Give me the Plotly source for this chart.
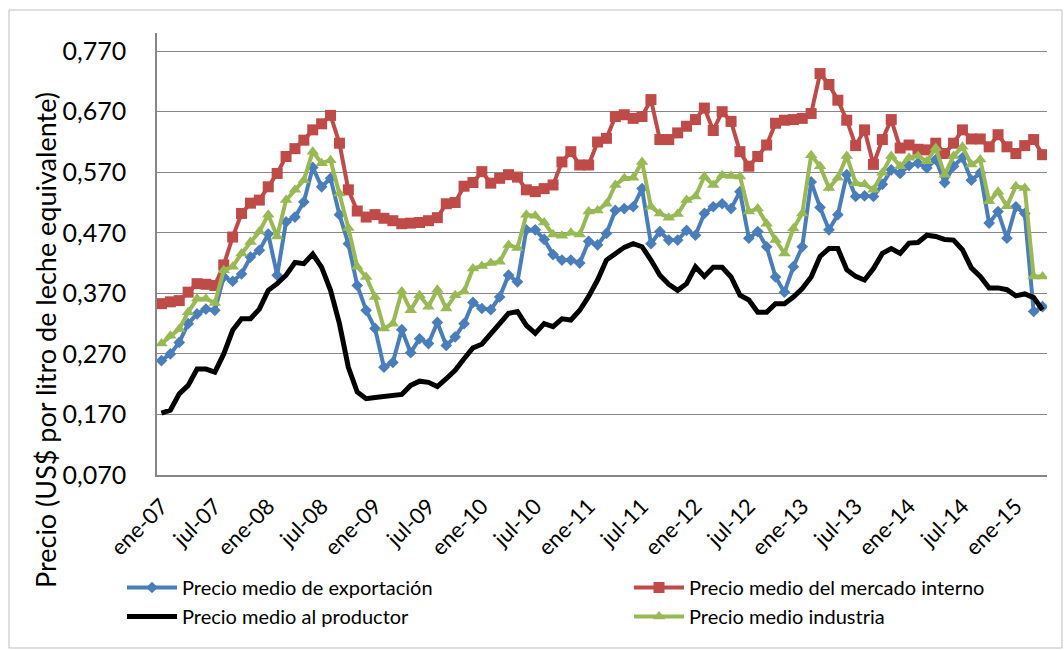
import plotly.graph_objects as go

meses = ["ene", "feb", "mar", "abr", "may", "jun", "jul", "ago", "sep", "oct", "nov", "dic"]
categorias = [f"{meses[i % 12]}-{7 + i // 12:02d}" for i in range(100)]
etiquetas = [c for i, c in enumerate(categorias) if i % 6 == 0]

exportacion = [
    0.259, 0.270, 0.289, 0.320, 0.336, 0.344, 0.342, 0.397, 0.390, 0.402,
    0.430, 0.441, 0.468, 0.400, 0.488, 0.496, 0.521, 0.578, 0.546, 0.560,
    0.500, 0.452, 0.383, 0.342, 0.312, 0.248, 0.256, 0.310, 0.272, 0.295,
    0.287, 0.322, 0.284, 0.298, 0.320, 0.355, 0.345, 0.343, 0.364, 0.400,
    0.389, 0.475, 0.475, 0.459, 0.434, 0.425, 0.425, 0.420, 0.456, 0.450,
    0.469, 0.507, 0.510, 0.513, 0.543, 0.452, 0.472, 0.458, 0.458, 0.474,
    0.466, 0.502, 0.513, 0.518, 0.510, 0.538, 0.461, 0.472, 0.447, 0.397,
    0.372, 0.414, 0.447, 0.554, 0.512, 0.475, 0.500, 0.566, 0.530, 0.531,
    0.530, 0.550, 0.574, 0.568, 0.581, 0.585, 0.577, 0.591, 0.553, 0.580,
    0.594, 0.557, 0.569, 0.486, 0.505, 0.461, 0.513, 0.502, 0.340, 0.348,
]

mercado_interno = [
    0.353, 0.356, 0.358, 0.372, 0.386, 0.385, 0.383, 0.417, 0.463, 0.502,
    0.519, 0.524, 0.546, 0.568, 0.596, 0.609, 0.623, 0.640, 0.650, 0.664,
    0.618, 0.541, 0.506, 0.496, 0.500, 0.494, 0.490, 0.485, 0.486, 0.487,
    0.490, 0.495, 0.518, 0.520, 0.547, 0.553, 0.571, 0.552, 0.560, 0.566,
    0.562, 0.541, 0.538, 0.543, 0.549, 0.587, 0.604, 0.582, 0.582, 0.620,
    0.626, 0.662, 0.665, 0.659, 0.662, 0.690, 0.624, 0.624, 0.635, 0.646,
    0.657, 0.676, 0.639, 0.670, 0.654, 0.604, 0.580, 0.596, 0.615, 0.651,
    0.656, 0.657, 0.659, 0.667, 0.733, 0.715, 0.689, 0.656, 0.614, 0.640,
    0.583, 0.624, 0.657, 0.610, 0.615, 0.608, 0.607, 0.618, 0.601, 0.618,
    0.640, 0.625, 0.625, 0.612, 0.632, 0.612, 0.601, 0.614, 0.624, 0.599,
]

productor = [
    0.172, 0.177, 0.204, 0.218, 0.245, 0.245, 0.240, 0.270, 0.309, 0.328,
    0.328, 0.344, 0.375, 0.386, 0.400, 0.421, 0.419, 0.435, 0.413, 0.375,
    0.320, 0.248, 0.207, 0.196, 0.198, 0.199, 0.201, 0.203, 0.218, 0.225,
    0.223, 0.216, 0.229, 0.243, 0.262, 0.280, 0.286, 0.303, 0.320, 0.337,
    0.340, 0.317, 0.304, 0.320, 0.315, 0.328, 0.326, 0.342, 0.365, 0.392,
    0.425, 0.436, 0.446, 0.452, 0.447, 0.425, 0.400, 0.385, 0.375, 0.386,
    0.414, 0.398, 0.413, 0.413, 0.397, 0.367, 0.359, 0.339, 0.339, 0.353,
    0.353, 0.364, 0.378, 0.397, 0.431, 0.444, 0.444, 0.409, 0.398, 0.392,
    0.411, 0.436, 0.444, 0.436, 0.453, 0.454, 0.466, 0.464, 0.459, 0.458,
    0.442, 0.412, 0.398, 0.379, 0.379, 0.376, 0.366, 0.369, 0.363, 0.343,
]

industria = [
    0.287, 0.300, 0.311, 0.339, 0.361, 0.361, 0.354, 0.408, 0.414, 0.436,
    0.455, 0.472, 0.500, 0.464, 0.524, 0.541, 0.557, 0.604, 0.585, 0.590,
    0.535, 0.478, 0.414, 0.397, 0.364, 0.312, 0.320, 0.373, 0.342, 0.367,
    0.348, 0.376, 0.345, 0.367, 0.373, 0.411, 0.415, 0.420, 0.422, 0.450,
    0.445, 0.500, 0.498, 0.487, 0.467, 0.465, 0.470, 0.467, 0.505, 0.507,
    0.518, 0.549, 0.560, 0.561, 0.587, 0.513, 0.502, 0.495, 0.501, 0.524,
    0.530, 0.563, 0.549, 0.565, 0.564, 0.563, 0.505, 0.510, 0.485, 0.458,
    0.436, 0.477, 0.502, 0.598, 0.580, 0.544, 0.561, 0.597, 0.552, 0.550,
    0.541, 0.569, 0.597, 0.580, 0.594, 0.597, 0.588, 0.610, 0.566, 0.597,
    0.612, 0.583, 0.591, 0.522, 0.538, 0.514, 0.547, 0.544, 0.398, 0.398,
]

FONT = "Lato"
PL, PR, PT, PB = 157, 1047, 33, 475
W, H = PR - PL, PB - PT

fig = go.Figure()
fig.add_trace(go.Scatter(x=categorias, y=exportacion, name="Precio medio de exportación",
                         mode="lines+markers", line=dict(color="#4A7EBB", width=4),
                         marker=dict(symbol="diamond", size=9, color="#4A7EBB"),
                         legend="legend"))
fig.add_trace(go.Scatter(x=categorias, y=mercado_interno, name="Precio medio del mercado interno",
                         mode="lines+markers", line=dict(color="#BE4B48", width=4),
                         marker=dict(symbol="square", size=11, color="#BE4B48"),
                         legend="legend2"))
fig.add_trace(go.Scatter(x=categorias, y=productor, name="Precio medio al productor",
                         mode="lines", line=dict(color="#000000", width=5),
                         legend="legend"))
fig.add_trace(go.Scatter(x=categorias, y=industria, name="Precio medio industria",
                         mode="lines+markers", line=dict(color="#98B954", width=4),
                         marker=dict(symbol="triangle-up", size=11, color="#98B954"),
                         legend="legend2"))

leg_common = dict(orientation="v", yanchor="top", xanchor="left",
                  font=dict(family=FONT, size=20), tracegroupgap=0,
                  itemwidth=50, bgcolor="rgba(0,0,0,0)")
fig.update_layout(
    width=1064, height=650,
    margin=dict(l=PL, r=1064 - PR, t=PT, b=650 - PB, autoexpand=False),
    paper_bgcolor="white", plot_bgcolor="white",
    separators=",.",
    font=dict(family=FONT, color="black"),
    showlegend=True,
    legend=dict(x=(122 - PL) / W, y=(PB - 568) / H, **leg_common),
    legend2=dict(x=(629 - PL) / W, y=(PB - 568) / H, **leg_common),
    shapes=[dict(type="rect", xref="paper", yref="paper",
                 x0=(9 - PL) / W, x1=(1062 - PL) / W,
                 y0=(PB - 648) / H, y1=(PB - 10) / H,
                 line=dict(color="#BFBFBF", width=1), layer="below")],
    annotations=[dict(text="Precio (US$ por litro de leche equivalente)",
                      textangle=-90, xref="paper", yref="paper",
                      x=(45 - PL) / W, y=(PB - 340) / H,
                      xanchor="center", yanchor="middle", showarrow=False,
                      font=dict(family=FONT, size=27, color="black"))],
)
fig.update_xaxes(type="category", categoryorder="array", categoryarray=categorias,
                 tickmode="array", tickvals=etiquetas, ticktext=etiquetas,
                 tickangle=-45, tickfont=dict(family=FONT, size=22),
                 ticks="outside", ticklen=8, tickcolor="rgba(0,0,0,0)",
                 showline=True, linecolor="#868686", linewidth=1.5,
                 showgrid=False, range=[-0.5, 99.5])
fig.update_yaxes(range=[0.07, 0.80], tick0=0.07, dtick=0.1, tickformat=".3f",
                 tickfont=dict(family=FONT, size=25),
                 ticks="outside", ticklen=24, tickcolor="rgba(0,0,0,0)",
                 showline=True, linecolor="#868686", linewidth=1.5,
                 showgrid=True, gridcolor="#868686", gridwidth=1, zeroline=False)

fig.write_html("out.html", config={"displayModeBar": False},
               post_script="document.body.style.margin='0';")
